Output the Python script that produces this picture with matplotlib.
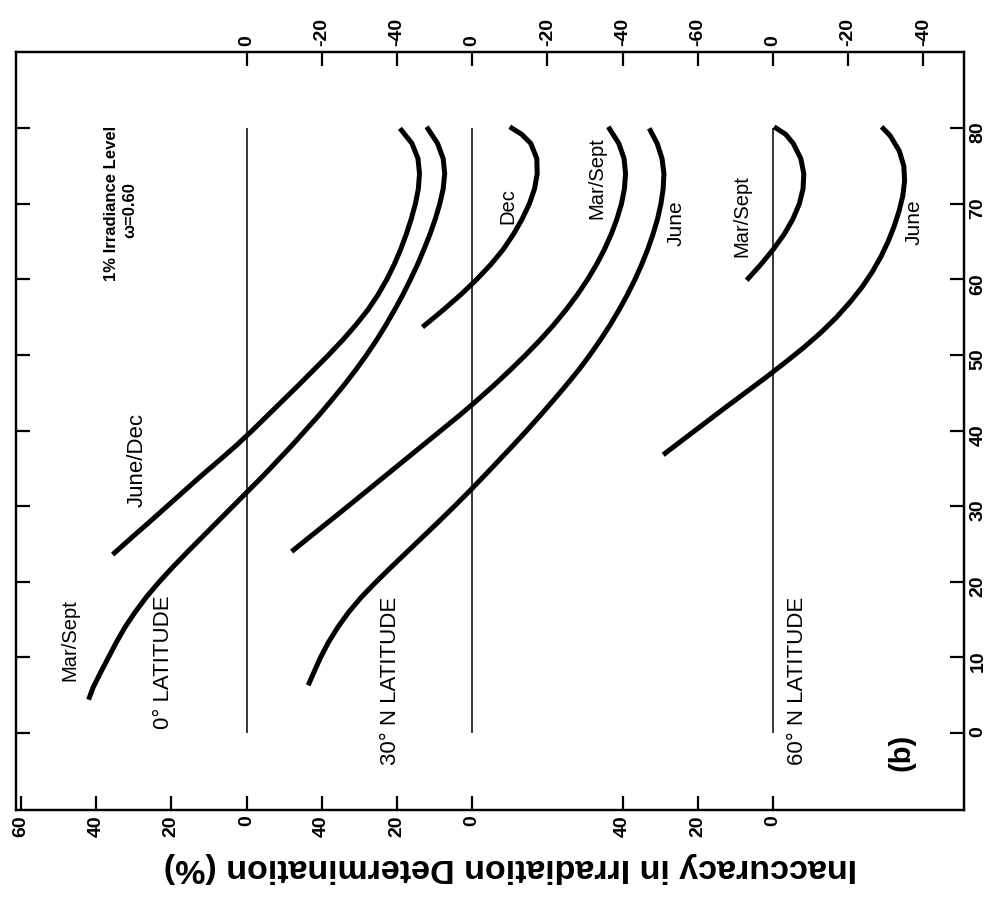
import matplotlib
matplotlib.use("Agg")
import matplotlib.pyplot as plt
import numpy as np

plt.rcParams['font.family'] = ['Liberation Sans', 'DejaVu Sans']

# solar zenith angle (deg) vs inaccuracy (%)
# 0 deg latitude
eq_jd_ang = [23.6, 26, 28, 30, 32, 34, 36, 38, 40, 42, 44, 46, 48, 50, 52, 54, 56, 58, 60,
             62, 64, 66, 68, 70, 72, 74, 76, 78, 80]
eq_jd_err = [35.6, 30.2, 25.6, 21.1, 16.6, 12.1, 7.4, 2.8, -1.5, -5.6, -9.7, -13.8, -17.8,
             -21.8, -25.6, -29.1, -32.3, -35.0, -37.3, -39.3, -41.0, -42.5, -43.8, -44.9,
             -45.7, -46.0, -45.6, -44.0, -40.8]
eq_ms_ang = [4.4, 6, 8, 10, 12, 14, 16, 18, 20, 22, 24, 26, 28, 30, 32, 34, 36, 38, 40, 42,
             44, 46, 48, 50, 52, 54, 56, 58, 60, 62, 64, 66, 68, 70, 72, 74, 76, 78, 80.2]
eq_ms_err = [42.0, 40.8, 38.8, 36.7, 34.6, 32.3, 29.6, 26.6, 23.2, 19.5, 15.6, 11.6, 7.6,
             3.6, -0.4, -4.4, -8.2, -12.0, -15.6, -19.2, -22.6, -25.9, -29.0, -31.9, -34.6,
             -37.1, -39.4, -41.6, -43.6, -45.5, -47.2, -48.8, -50.2, -51.4, -52.3, -52.7,
             -52.3, -50.8, -47.9]

# 30 deg N latitude
n30_dec_ang = [53.7, 56, 58, 60, 62, 64, 66, 68, 70, 72, 74, 76, 78, 79.2, 80.2]
n30_dec_err = [13.2, 7.6, 3.0, -1.2, -5.0, -8.3, -11.0, -13.3, -15.2, -16.6, -17.3, -17.2,
               -15.6, -13.2, -10.0]
n30_ms_ang = [24, 27, 30, 33, 36, 39, 42, 44, 46, 48, 50, 52, 54, 56, 58, 60, 62, 64, 66, 68,
              70, 72, 74, 76, 78, 80.2]
n30_ms_err = [48.0, 40.5, 33.0, 25.6, 18.2, 10.8, 3.4, -1.3, -5.8, -10.1, -14.2, -18.1,
              -21.7, -25.0, -28.0, -30.7, -33.1, -35.2, -37.0, -38.5, -39.7, -40.5, -40.8,
              -40.4, -39.0, -36.2]
n30_jun_ang = [6.3, 8, 10, 12, 14, 16, 18, 20, 22, 24, 26, 28, 30, 32, 34, 36, 38, 40, 42, 44,
               46, 48, 50, 52, 54, 56, 58, 60, 62, 64, 66, 68, 70, 72, 74, 76, 78, 80]
n30_jun_err = [43.6, 42.1, 40.3, 38.2, 35.7, 32.8, 29.4, 25.5, 21.4, 17.2, 13.0, 8.8, 4.7,
               0.7, -3.2, -7.0, -10.8, -14.5, -18.1, -21.6, -25.0, -28.3, -31.3, -34.1,
               -36.7, -39.1, -41.3, -43.3, -45.1, -46.7, -48.1, -49.3, -50.2, -50.8, -51.0,
               -50.5, -49.2, -47.1]

# 60 deg N latitude
n60_ms_ang = [59.9, 62, 64, 66, 68, 70, 72, 74, 76, 78, 79.2, 80.2]
n60_ms_err = [7.0, 3.2, -0.1, -3.0, -5.3, -7.0, -8.0, -8.2, -7.4, -5.4, -3.4, -0.3]
n60_jun_ang = [36.8, 39, 41, 43, 45, 47, 49, 51, 53, 55, 57, 59, 61, 63, 65, 67, 69, 71, 73,
               75, 77, 79, 80.2]
n60_jun_err = [29.2, 23.4, 18.1, 12.8, 7.4, 2.0, -3.2, -8.2, -12.8, -16.9, -20.5, -23.7,
               -26.4, -28.7, -30.6, -32.2, -33.5, -34.5, -35.0, -34.8, -33.6, -31.2, -28.9]

# tick values for each stacked panel
bottom_vals = [[60, 40, 20, 0], [40, 20, 0], [40, 20, 0]]
top_vals = [[0, -20, -40], [0, -20, -40, -60], [0, -20, -40]]
angle_ticks = [0, 10, 20, 30, 40, 50, 60, 70, 80]
zero_span = (0, 80)

# horizontal shift of each panel's zero line
offsets = [0, 60, 140]

fig = plt.figure(figsize=(9.98, 9.07), dpi=100)
ax = fig.add_axes([16 / 998, 97 / 907, 948 / 998, 758 / 907])
ax.set_xlim(-61.3, 190.8)
ax.set_ylim(-10.2, 90.1)

curves = [
    (0, eq_jd_ang, eq_jd_err), (0, eq_ms_ang, eq_ms_err),
    (1, n30_dec_ang, n30_dec_err), (1, n30_ms_ang, n30_ms_err), (1, n30_jun_ang, n30_jun_err),
    (2, n60_ms_ang, n60_ms_err), (2, n60_jun_ang, n60_jun_err),
]
for p, ang, err in curves:
    ax.plot(offsets[p] - np.array(err), ang, color='black', lw=3.6,
            solid_capstyle='butt', solid_joinstyle='round')

ax.vlines(offsets, zero_span[0], zero_span[1], color='black', lw=1.1)

# ticks
bpos, blab, tpos, tlab = [], [], [], []
for off, bv, tv in zip(offsets, bottom_vals, top_vals):
    bpos += [off - v for v in bv]
    blab += [str(v) for v in bv]
    tpos += [off - v for v in tv]
    tlab += [str(v) for v in tv]

ax.set_xticks(bpos)
ax.set_xticklabels(blab)
ax.set_yticks(angle_ticks)
ax.set_yticklabels([str(a) for a in angle_ticks])
ax.tick_params(axis='both', direction='in', length=10, width=1.6, labelsize=14, pad=4)
ax.tick_params(axis='x', labelrotation=90)
ax.tick_params(axis='y', left=True, right=True, labelleft=False, labelright=True,
               labelrotation=90)

ax2 = ax.twiny()
ax2.set_xlim(ax.get_xlim())
ax2.set_xticks(tpos)
ax2.set_xticklabels(tlab)
ax2.tick_params(axis='x', direction='in', length=10, width=1.6, labelsize=14, pad=4,
                labelrotation=90)

for a in (ax, ax2):
    for s in a.spines.values():
        s.set_linewidth(1.6)
    for t in a.get_xticklabels() + a.get_yticklabels():
        t.set_fontweight('bold')

# annotations (all rotated like the scanned page)
txt = dict(rotation=90, ha='center', va='center', color='black')
ax.text(-35.8, 70.1, '1% Irradiance Level', fontsize=12, fontweight='bold', **txt)
ax.text(-31.0, 69.2, 'ω=0.60', fontsize=12, fontweight='bold', **txt)
ax.text(-46.9, 12.3, 'Mar/Sept', fontsize=14.5, **txt)
ax.text(-29.1, 36.1, 'June/Dec', fontsize=16, **txt)
ax.text(-22.1, 9.4, '0° LATITUDE', fontsize=16, **txt)
ax.text(38.2, 6.9, '30° N LATITUDE', fontsize=16, **txt)
ax.text(146.4, 6.9, '60° N LATITUDE', fontsize=16, **txt)
ax.text(69.5, 69.7, 'Dec', fontsize=14.5, **txt)
ax.text(93.2, 73.4, 'Mar/Sept', fontsize=14.5, **txt)
ax.text(114.2, 67.4, 'June', fontsize=15, **txt)
ax.text(131.7, 68.4, 'Mar/Sept', fontsize=14.5, **txt)
ax.text(177.5, 67.6, 'June', fontsize=15, **txt)
ax.text(174.3, -2.6, '(b)', fontsize=21, fontweight='bold', **txt)

fig.text(510 / 998, 1 - 868 / 907, 'Inaccuracy in Irradiation Determination (%)',
         rotation=180, ha='center', va='center', fontsize=24.5, fontweight='bold')

fig.savefig('out.png', dpi=100)
